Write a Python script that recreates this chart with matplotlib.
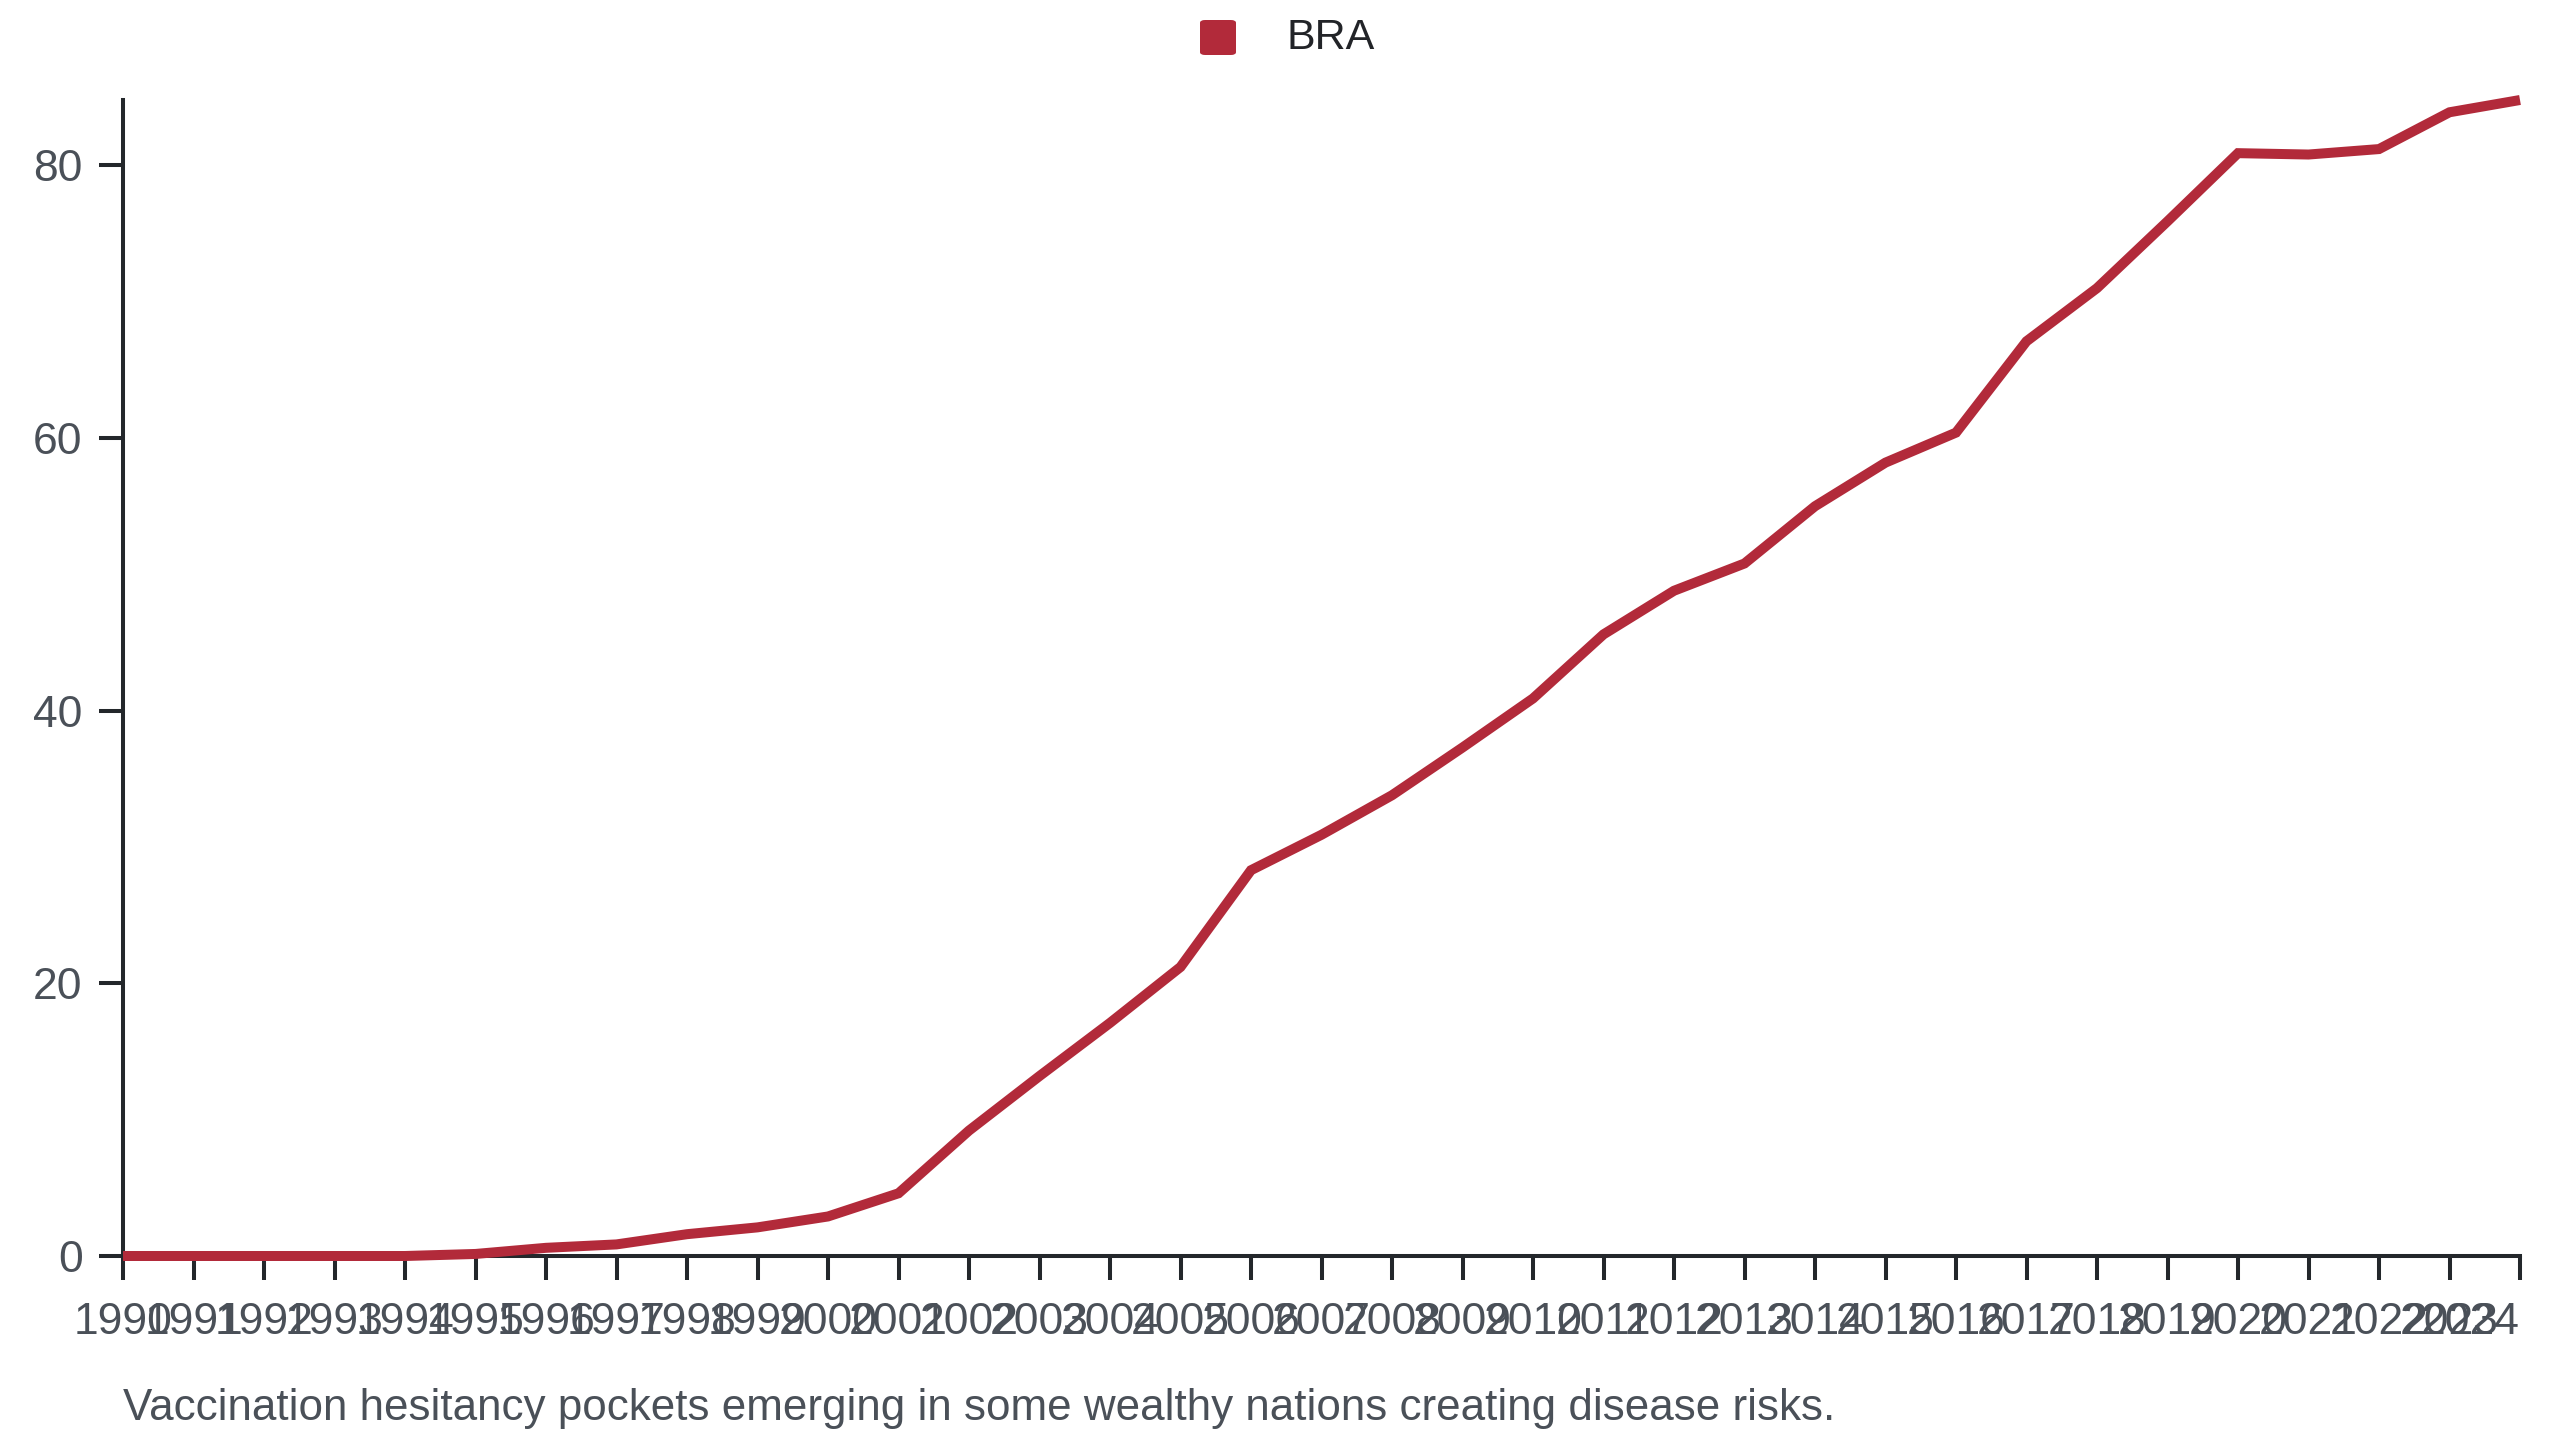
import matplotlib
matplotlib.use("Agg")
import matplotlib.pyplot as plt
from matplotlib.patches import FancyBboxPatch

plt.rcParams['font.family'] = ['Liberation Sans', 'DejaVu Sans']

years = list(range(1990, 2025))
values = [0.0, 0.0, 0.0, 0.0, 0.0, 0.15, 0.6, 0.85, 1.6, 2.1,
          2.9, 4.6, 9.2, 13.2, 17.1, 21.2, 28.3, 30.9, 33.8, 37.3,
          40.9, 45.6, 48.8, 50.8, 55.0, 58.2, 60.4, 67.1, 71.0, 75.9,
          80.9, 80.8, 81.2, 83.9, 84.8]
series_name = "BRA"
yticks = [0, 20, 40, 60, 80]
xtick_labels = [str(y) for y in years]
caption = "Vaccination hesitancy pockets emerging in some wealthy nations creating disease risks."

line_color = "#b22a3a"
axis_color = "#23272b"
label_color = "#4a5058"

fig = plt.figure(figsize=(25.6, 14.4), dpi=100)
ax = fig.add_axes([123/2560, 1 - 1256/1440, (2520-123)/2560, (1256-100)/1440])

ax.plot(years, values, color=line_color, lw=7.2, solid_joinstyle='miter',
        solid_capstyle='butt', clip_on=False, zorder=3)

ax.set_xlim(years[0], years[-1])
ax.set_ylim(0, max(values))

for s in ['top', 'right']:
    ax.spines[s].set_visible(False)
for s in ['left', 'bottom']:
    ax.spines[s].set_color(axis_color)
    ax.spines[s].set_linewidth(2.9)
    ax.spines[s].set_zorder(2)

ax.set_xticks(years)
ax.set_xticklabels(xtick_labels)
ax.set_yticks(yticks)
ax.set_yticklabels([str(v) for v in yticks])
ax.tick_params(axis='x', length=17, width=2.9, color=axis_color, pad=16,
               labelsize=32, labelcolor=label_color)
ax.tick_params(axis='y', length=17, width=2.9, color=axis_color, pad=12,
               labelsize=32, labelcolor=label_color)
ax.get_xticklabels()[-1].set_horizontalalignment('right')

# legend
sq = FancyBboxPatch((1200/2560, 1 - 55/1440), 36/2560, 35/1440,
                    boxstyle="round,pad=0,rounding_size=0.002",
                    transform=fig.transFigure, facecolor=line_color,
                    edgecolor='none')
fig.patches.append(sq)
fig.text(1287/2560, 1 - 38/1440, series_name, fontsize=31, color="#222428",
         ha='left', va='center')

fig.text(123/2560, 1 - 1420/1440, caption, fontsize=31.7, color=label_color,
         ha='left', va='baseline')

fig.savefig("out.png", dpi=100, facecolor='white')
